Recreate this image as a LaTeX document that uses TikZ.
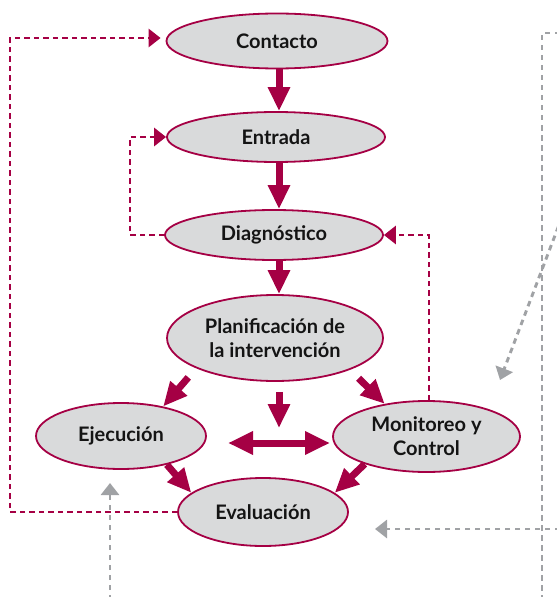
\documentclass[tikz,border=0pt]{standalone}
\usepackage{fontspec}
\setmainfont{Lato}
\usetikzlibrary{arrows.meta,shapes.geometric,calc}
\definecolor{crim}{RGB}{165,0,68}
\definecolor{efill}{RGB}{217,218,219}
\definecolor{gdash}{RGB}{160,162,165}
\definecolor{txt}{RGB}{20,20,20}
\begin{document}
\begin{tikzpicture}[x=1bp,y=-1bp,
  stage/.style={ellipse, draw=crim, line width=1.8bp, fill=efill, inner sep=0pt,
    text=txt, align=center, font=\fontsize{20bp}{24bp}\selectfont\bfseries},
  bigarrow/.style={draw=crim, line width=7bp, -{Triangle[width=21bp,length=24bp]}},
  dblarrow/.style={draw=crim, line width=7bp, {Triangle[width=22bp,length=25bp]}-{Triangle[width=22bp,length=25bp]}},
  redash/.style={draw=crim, line width=2.9bp, dash pattern=on 5.5bp off 4bp},
  redarrow/.style={redash, -{Triangle[width=18bp,length=12bp]}},
  graydash/.style={draw=gdash, line width=2.9bp, dash pattern=on 5.5bp off 4.5bp},
  grayarrow/.style={graydash, -{Triangle[width=18bp,length=12bp]}}
]
\useasboundingbox (0,0) rectangle (557,597);

% stages
\node[stage, minimum width=221bp, minimum height=55bp] (cont) at (277,41) {Contacto};
\node[stage, minimum width=218bp, minimum height=50bp] (entr) at (276,137) {Entrada};
\node[stage, minimum width=218bp, minimum height=50bp] (diag) at (274,235) {Diagnóstico};
\node[stage, minimum width=216bp, minimum height=86bp] (plan) at (275,338) {Planificación de\\la intervención};
\node[stage, minimum width=170bp, minimum height=66bp] (ejec) at (121,436) {Ejecución};
\node[stage, minimum width=187bp, minimum height=71bp] (moni) at (426.5,436.5) {Monitoreo y\\Control};
\node[stage, minimum width=170bp, minimum height=68bp] (eval) at (263,512) {Evaluación};

% helper coordinates
\coordinate (ax) at (279,0);
\coordinate (lft) at (10,0);
\coordinate (mid) at (130,0);
\coordinate (rgt) at (429,0);
\coordinate (pdown) at (279,428);
\coordinate (dl) at (228,443);
\coordinate (dr) at (330,443);

% main flow arrows
\draw[bigarrow] (cont.south -| ax) -- (entr.north -| ax);
\draw[bigarrow] (entr.south -| ax) -- (diag.north -| ax);
\draw[bigarrow] (diag.south -| ax) -- (plan.north -| ax);
\draw[bigarrow, shorten <=10bp] (plan.south -| ax) -- (pdown);
\draw[bigarrow, shorten <=12bp] (plan.201) -- (ejec.35);
\draw[bigarrow, shorten <=12bp] (plan.-23) -- (moni.142);
\draw[bigarrow] (ejec.-32) -- (eval.165);
\draw[bigarrow] (moni.204) -- (eval.15);
\draw[dblarrow] (dl) -- (dr);

% feedback dashed arrows
\draw[redarrow, shorten >=5bp] (eval.west) -- (eval.west -| lft) -- ([yshift=3bp]cont.west -| lft) -- ([yshift=3bp]cont.west);
\draw[redarrow] (diag.west) -- (diag.west -| mid) -- (entr.west -| mid) -- (entr.west);
\draw[redarrow] (moni.north -| rgt) -- (diag.east -| rgt) -- (diag.east);

% gray dashed lines
\coordinate (g1a) at (560,33);
\coordinate (g1b) at (542,33);
\coordinate (g1c) at (542,600);
\draw[graydash] (g1a) -- (g1b) -- (g1c);
\coordinate (g2a) at (562,217);
\coordinate (g2b) at (500,380);
\draw[grayarrow] (g2a) -- (g2b);
\coordinate (g3a) at (560,529);
\coordinate (g3b) at (375,529);
\draw[grayarrow] (g3a) -- (g3b);
\coordinate (g4a) at (110,600);
\coordinate (g4b) at (110,483);
\draw[grayarrow] (g4a) -- (g4b);
\end{tikzpicture}
\end{document}
